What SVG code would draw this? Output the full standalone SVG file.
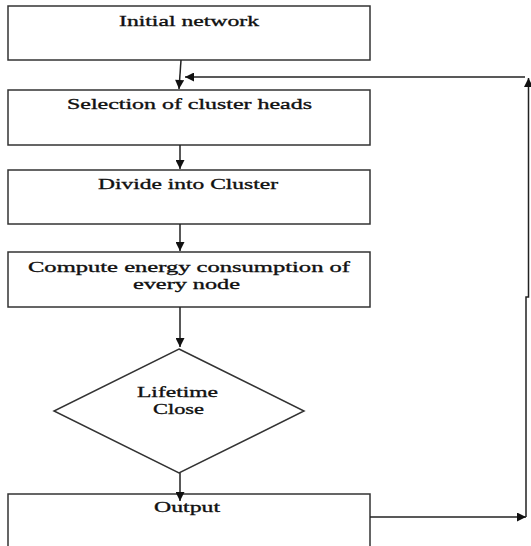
<svg xmlns="http://www.w3.org/2000/svg" width="531" height="546" viewBox="0 0 531 546">
<defs>
<style>
.box{fill:#fff;stroke:#333;stroke-width:1.5}
.t{font-family:"Liberation Serif","Times New Roman",serif;font-size:15.5px;fill:#111;stroke:#111;stroke-width:0.35;text-anchor:middle}
.c{fill:none;stroke:#222;stroke-width:1.5}
</style>
<marker id="ah2" viewBox="0 0 10 10" refX="10" refY="5" markerWidth="10" markerHeight="9" orient="auto" markerUnits="userSpaceOnUse">
<path d="M0,0 L10,5 L0,10 Z" fill="#111"/>
</marker>
</defs>
<rect width="531" height="546" fill="#fff"/>
<g id="n1"><rect class="box" x="8" y="6" width="362" height="54"/><text class="t" x="189" y="26" textLength="140" lengthAdjust="spacingAndGlyphs">Initial network</text></g>
<g id="n2"><rect class="box" x="8" y="90" width="362" height="55"/><text class="t" x="189.5" y="109" textLength="245" lengthAdjust="spacingAndGlyphs">Selection of cluster heads</text></g>
<g id="n3"><rect class="box" x="8" y="170" width="362" height="54"/><text class="t" x="188" y="189" textLength="180" lengthAdjust="spacingAndGlyphs">Divide into Cluster</text></g>
<g id="n4"><rect class="box" x="8" y="252" width="362" height="55"/><text class="t" x="189" y="272" textLength="322" lengthAdjust="spacingAndGlyphs">Compute energy consumption of</text><text class="t" x="186.5" y="289" textLength="107" lengthAdjust="spacingAndGlyphs">every node</text></g>
<g id="n5"><polygon class="box" points="179,349 304,411 179,473 54,411"/><text class="t" x="177.5" y="397" textLength="81" lengthAdjust="spacingAndGlyphs">Lifetime</text><text class="t" x="178.5" y="414" textLength="51" lengthAdjust="spacingAndGlyphs">Close</text></g>
<g id="n6"><rect class="box" x="8" y="494" width="362" height="60"/><text class="t" x="187" y="512" textLength="66" lengthAdjust="spacingAndGlyphs">Output</text></g>
<g id="connectors">
<path class="c" d="M181,60 L179,89" marker-end="url(#ah2)"/>
<path class="c" d="M180,145 L180,169" marker-end="url(#ah2)"/>
<path class="c" d="M180,224 L180,251" marker-end="url(#ah2)"/>
<path class="c" d="M180,307 L180,347" marker-end="url(#ah2)"/>
<path class="c" d="M180,473 L180,501" marker-end="url(#ah2)"/>
<path class="c" d="M370,517 L526,517" marker-end="url(#ah2)"/>
<path class="c" d="M526,517 L526,297 L528.5,297 L528.5,78" marker-end="url(#ah2)"/>
<path class="c" d="M525,77 L185,77" marker-end="url(#ah2)"/>
</g>
</svg>
